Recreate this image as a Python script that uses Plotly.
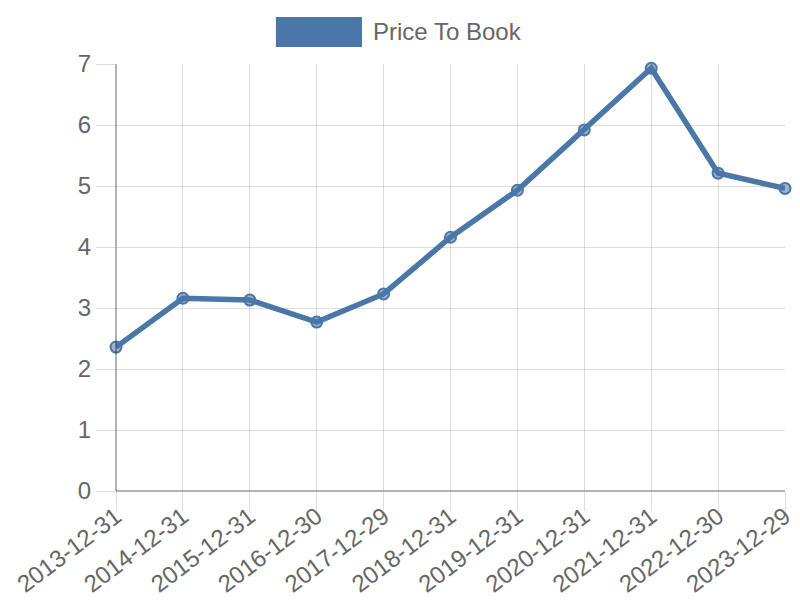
import plotly.graph_objects as go

dates = ["2013-12-31", "2014-12-31", "2015-12-31", "2016-12-30", "2017-12-29",
         "2018-12-31", "2019-12-31", "2020-12-31", "2021-12-31", "2022-12-30", "2023-12-29"]
price_to_book = [2.36, 3.16, 3.13, 2.77, 3.23, 4.16, 4.93, 5.92, 6.93, 5.21, 4.96]
series_name = "Price To Book"

blue = "rgb(74,118,168)"
grid = "rgba(0,0,0,0.13)"
text_col = "#666666"

fig = go.Figure()
# invisible carrier trace for the label axis
fig.add_trace(go.Scatter(
    x=dates, y=price_to_book, xaxis="x2", mode="lines", opacity=0,
    hoverinfo="skip", showlegend=False,
))
fig.add_trace(go.Scatter(
    x=dates, y=price_to_book, mode="lines+markers", name=series_name,
    line=dict(color=blue, width=5.5),
    marker=dict(size=11, color="rgba(74,118,168,0.55)", line=dict(color=blue, width=2)),
    cliponaxis=False, showlegend=False,
))

fig.update_layout(
    width=800, height=600,
    margin=dict(l=116, r=15, t=64, b=109),
    paper_bgcolor="white", plot_bgcolor="white",
    font=dict(family="Liberation Sans, Arial, sans-serif", color=text_col, size=24),
    xaxis=dict(
        type="category", range=[0, 10], showgrid=True, gridcolor=grid, gridwidth=1,
        ticks="outside", ticklen=19, tickcolor=grid, automargin=False,
        showticklabels=False, showline=False, zeroline=False,
    ),
    xaxis2=dict(
        type="category", range=[0, 10], overlaying="x", anchor="y", side="bottom",
        showgrid=False, ticks="", automargin=False, tickangle=-37,
        ticklabelstandoff=6, showline=False, zeroline=False,
        tickfont=dict(size=24, color=text_col),
    ),
    yaxis=dict(
        range=[0, 7], dtick=1, showgrid=True, gridcolor=grid, gridwidth=1,
        ticks="outside", ticklen=19, tickcolor=grid, zeroline=False, automargin=False,
        showline=False, tickfont=dict(size=24, color=text_col),
    ),
    shapes=[
        dict(type="line", xref="paper", yref="paper", x0=0, x1=0, y0=0, y1=1,
             line=dict(color="rgba(0,0,0,0.3)", width=2)),
        dict(type="line", xref="paper", yref="paper", x0=0, x1=1, y0=0, y1=0,
             line=dict(color="rgba(0,0,0,0.3)", width=2)),
        dict(type="rect", xref="paper", yref="paper", x0=0.239, x1=0.3677,
             y0=1.0398, y1=1.110, fillcolor=blue, line=dict(width=0)),
    ],
    annotations=[
        dict(text=series_name, xref="paper", yref="paper", x=0.381, y=1.075,
             xanchor="left", yanchor="middle", showarrow=False,
             font=dict(size=24, color=text_col)),
    ],
)

fig.write_html("out.html", config={"displayModeBar": False},
               post_script="document.body.style.margin='0';")
